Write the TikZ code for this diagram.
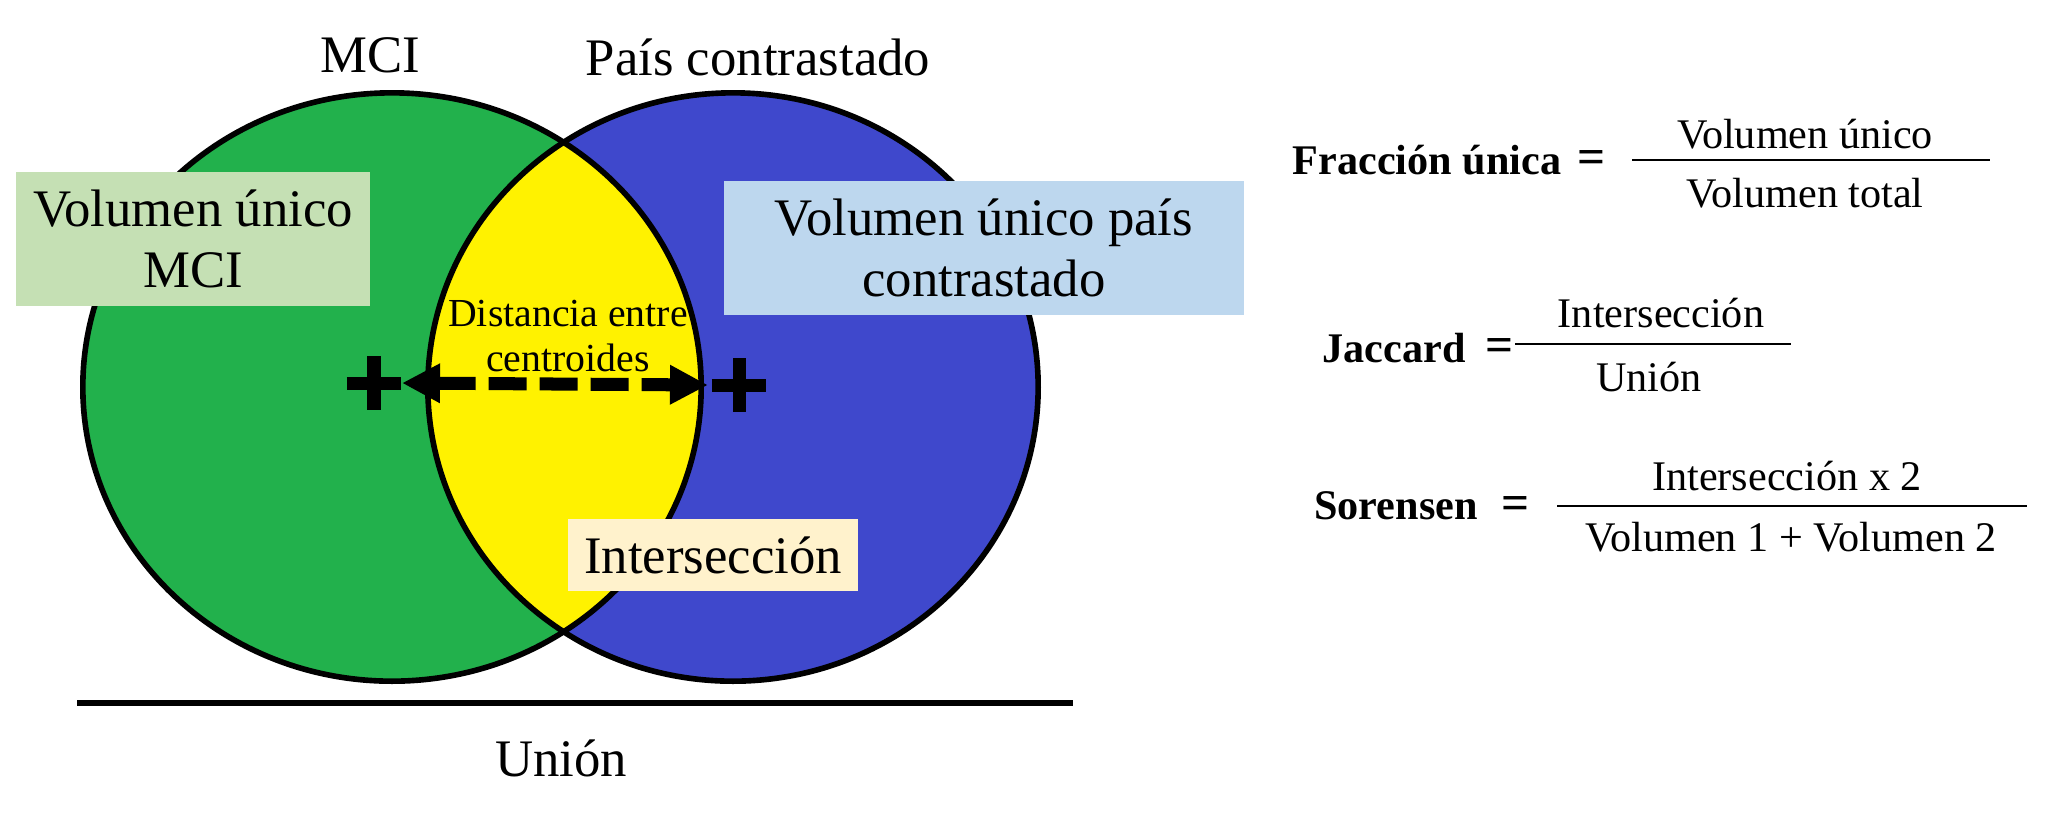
\documentclass[tikz,border=0pt]{standalone}
\usepackage{fontspec}
\setmainfont{Liberation Serif}
\usetikzlibrary{arrows.meta}
\definecolor{mcigreen}{HTML}{22B14C}
\definecolor{paisblue}{HTML}{3F48CC}
\definecolor{lensyellow}{HTML}{FFF200}
\definecolor{boxgreen}{HTML}{C5E0B4}
\definecolor{boxblue}{HTML}{BDD7EE}
\definecolor{boxyellow}{HTML}{FFF2CC}

\begin{document}
\begin{tikzpicture}[x=0.01cm,y=-0.01cm,
    big/.style={font=\fontsize{15}{17.5}\selectfont, align=center, inner sep=0pt},
    small/.style={font=\fontsize{12}{14}\selectfont, inner sep=0pt},
    smallbold/.style={font=\fontsize{12}{14}\selectfont\bfseries, inner sep=0pt},
    eqsign/.style={font=\fontsize{14}{14}\selectfont\bfseries, inner sep=0pt},
    labelbox/.style={big, minimum width=#1, minimum height=1.34cm},
    crossnode/.style={rectangle, minimum size=0.54cm, inner sep=0pt, outer sep=0pt},
    crossline/.style={line width=3.7pt},
    outline/.style={line width=1.6pt},
    fracline/.style={line width=0.6pt}]
\useasboundingbox (0,0) rectangle (2060,817);

% circles and intersection
\fill[mcigreen] (392,387) ellipse [x radius=3.09cm, y radius=2.94cm];
\fill[paisblue] (733,387) ellipse [x radius=3.05cm, y radius=2.94cm];
\begin{scope}
    \clip (392,387) ellipse [x radius=3.09cm, y radius=2.94cm];
    \fill[lensyellow] (733,387) ellipse [x radius=3.05cm, y radius=2.94cm];
\end{scope}
\draw[outline] (392,387) ellipse [x radius=3.09cm, y radius=2.94cm];
\draw[outline] (733,387) ellipse [x radius=3.05cm, y radius=2.94cm];

\node[big] (tMCI) at (370,55) {MCI};
\node[big] (tPais) at (758,57) {País contrastado};

\node[labelbox=3.53cm, fill=boxgreen] (vMCI) at (193,239) {Volumen único\\MCI};
\node[labelbox=5.20cm, fill=boxblue] (vPais) at (984,248) {Volumen único país\\contrastado};
\node[big, fill=boxyellow, minimum width=2.90cm, minimum height=0.72cm] (inter) at (713,555) {Intersección};

% centroids
\node[crossnode] (cMCI) at (374,383) {};
\node[crossnode] (cPais) at (739,385) {};
\foreach \c in {cMCI,cPais}{
    \draw[crossline, black!45, opacity=0.5, shift={(4,5)}] (\c.west) -- (\c.east) (\c.north) -- (\c.south);
    \draw[crossline] (\c.west) -- (\c.east) (\c.north) -- (\c.south);
}
\draw[line width=3.7pt, dash pattern=on 10.8pt off 3.7pt,
    {Triangle[length=0.38cm, width=0.37cm]}-{Triangle[length=0.38cm, width=0.37cm]}]
    ([xshift=0.01cm]cMCI.east) -- ([xshift=-0.04cm]cPais.west);
\node[font=\fontsize{11.3}{12.8}\selectfont, align=center, inner sep=0pt] (dist) at (568,336) {Distancia entre\\centroides};

% union
\coordinate (uL) at (77,703);
\coordinate (uR) at (1073,703);
\draw[line width=1.7pt] (uL) -- (uR);
\node[big] (union) at (561,758) {Unión};

% formulas
\node[smallbold] (fu) at (1427,160) {Fracción única};
\node[eqsign] (fuEq) at (1592,162) {=};
\coordinate (fuL) at (1632,160);
\coordinate (fuR) at (1990,160);
\draw[fracline] (fuL) -- (fuR);
\node[small] (fuN) at (1805,134) {Volumen único};
\node[small] (fuD) at (1805,193) {Volumen total};

\node[smallbold] (jac) at (1394,348) {Jaccard};
\node[eqsign] (jacEq) at (1500,350) {=};
\coordinate (jacL) at (1515,344);
\coordinate (jacR) at (1791,344);
\draw[fracline] (jacL) -- (jacR);
\node[small] (jacN) at (1661,313) {Intersección};
\node[small] (jacD) at (1649,377) {Unión};

\node[smallbold] (sor) at (1396,506) {Sorensen};
\node[eqsign] (sorEq) at (1516,508) {=};
\coordinate (sorL) at (1557,506);
\coordinate (sorR) at (2027,506);
\draw[fracline] (sorL) -- (sorR);
\node[small] (sorN) at (1787,476) {Intersección x 2};
\node[small] (sorD) at (1791,537) {Volumen 1 + Volumen 2};
\end{tikzpicture}
\end{document}
